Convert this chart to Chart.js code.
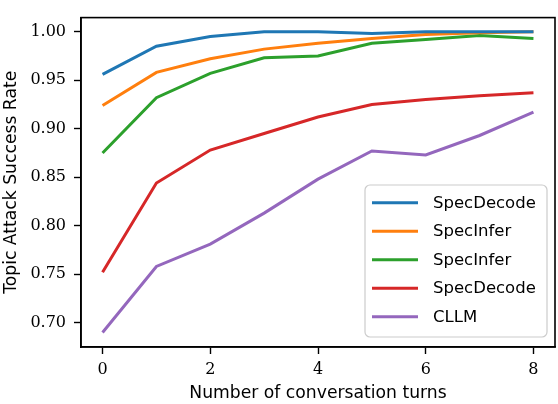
<!DOCTYPE html>
<html>
<head>
<meta charset="utf-8">
<script src="https://cdn.jsdelivr.net/npm/chart.js@4/dist/chart.umd.min.js"></script>
<style>
  html, body { margin: 0; padding: 0; background: #fff; }
  #wrap { width: 558px; height: 404px; }
</style>
</head>
<body>
<div id="wrap"><canvas id="asrChart"></canvas></div>
<script>
// conversation turns on the x axis
const turns = [0, 1, 2, 3, 4, 5, 6, 7, 8];

// success rate per method
const specDecodeA = [0.956, 0.985, 0.995, 1.000, 1.000, 0.998, 1.000, 1.000, 1.000];
const specInferA  = [0.924, 0.958, 0.972, 0.982, 0.988, 0.993, 0.997, 0.999, 1.000];
const specInferB  = [0.875, 0.932, 0.957, 0.973, 0.975, 0.988, 0.992, 0.996, 0.993];
const specDecodeB = [0.752, 0.844, 0.878, 0.895, 0.912, 0.925, 0.930, 0.934, 0.937];
const cllm        = [0.690, 0.758, 0.781, 0.813, 0.848, 0.877, 0.873, 0.893, 0.917];

const seriesNames = ['SpecDecode', 'SpecInfer', 'SpecInfer', 'SpecDecode', 'CLLM'];
const seriesColors = ['#1f77b4', '#ff7f0e', '#2ca02c', '#d62728', '#9467bd'];

const xTicks = [0, 2, 4, 6, 8];
const yTicks = [0.70, 0.75, 0.80, 0.85, 0.90, 0.95, 1.00];

const sansFont = '"DejaVu Sans", sans-serif';
const serifFont = '"DejaVu Serif", serif';

const allSeries = [specDecodeA, specInferA, specInferB, specDecodeB, cllm];
const datasets = allSeries.map((vals, i) => ({
    label: seriesNames[i],
    data: vals.map((v, j) => ({ x: turns[j], y: v })),
    borderColor: seriesColors[i],
    backgroundColor: seriesColors[i],
    borderWidth: 3,
    pointRadius: 0,
    tension: 0,
    fill: false
}));

// box around the whole plot area (matplotlib spines)
const frame = {
    id: 'frame',
    afterDatasetsDraw(chart) {
        const a = chart.chartArea, ctx = chart.ctx;
        ctx.save();
        ctx.strokeStyle = '#000';
        ctx.lineWidth = 1.6;
        ctx.strokeRect(a.left, a.top, a.right - a.left, a.bottom - a.top);
        ctx.restore();
    }
};

// legend drawn inside the lower right corner
const innerLegend = {
    id: 'innerLegend',
    afterDraw(chart) {
        const ctx = chart.ctx;
        const x0 = 365, y0 = 185, w = 182, h = 152, r = 5;
        ctx.save();
        ctx.fillStyle = 'rgba(255,255,255,0.8)';
        ctx.strokeStyle = '#cccccc';
        ctx.lineWidth = 1.2;
        ctx.beginPath();
        ctx.roundRect(x0, y0, w, h, r);
        ctx.fill();
        ctx.stroke();
        chart.data.datasets.forEach((ds, i) => {
            const y = 202.7 + i * 28.5;
            ctx.strokeStyle = ds.borderColor;
            ctx.lineWidth = 3;
            ctx.beginPath();
            ctx.moveTo(372, y);
            ctx.lineTo(418, y);
            ctx.stroke();
            ctx.font = '16.5px ' + sansFont;
            ctx.textAlign = 'left';
            ctx.textBaseline = 'middle';
            ctx.fillStyle = '#000';
            ctx.fillText(ds.label, 433, y + 1);
        });
        ctx.restore();
    }
};

const ctx = document.getElementById('asrChart').getContext('2d');
new Chart(ctx, {
    type: 'line',
    data: { datasets: datasets },
    options: {
        responsive: true,
        maintainAspectRatio: false,
        animation: false,
        layout: { padding: { top: 3, right: 3, left: 0, bottom: 0 } },
        plugins: {
            legend: { display: false },
            tooltip: { enabled: false }
        },
        scales: {
            x: {
                type: 'linear',
                min: -0.4,
                max: 8.4,
                afterBuildTicks: s => { s.ticks = xTicks.map(v => ({ value: v })); },
                afterFit: s => { s.height = 57; },
                grid: { drawOnChartArea: false, drawTicks: true, tickLength: 7, tickWidth: 1.4, tickColor: '#000' },
                border: { display: true, color: '#000', width: 1.6 },
                ticks: {
                    color: '#000',
                    padding: 6,
                    maxRotation: 0,
                    font: { family: serifFont, size: 16 },
                    callback: v => String(v)
                },
                title: {
                    display: true,
                    text: 'Number of conversation turns',
                    color: '#000',
                    font: { family: sansFont, size: 17.2 },
                    padding: { top: 0, bottom: 0 }
                }
            },
            y: {
                type: 'linear',
                min: 0.675,
                max: 1.0145,
                afterBuildTicks: s => { s.ticks = yTicks.map(v => ({ value: v })); },
                afterFit: s => { s.width = 81; },
                grid: { drawOnChartArea: false, drawTicks: true, tickLength: 7, tickWidth: 1.4, tickColor: '#000' },
                border: { display: true, color: '#000', width: 1.6 },
                ticks: {
                    color: '#000',
                    padding: 8,
                    font: { family: serifFont, size: 16 },
                    callback: v => v.toFixed(2)
                },
                title: {
                    display: true,
                    text: 'Topic Attack Success Rate',
                    color: '#000',
                    font: { family: sansFont, size: 17.2 },
                    padding: { top: 1, bottom: 0 }
                }
            }
        }
    },
    plugins: [frame, innerLegend]
});
</script>
</body>
</html>
